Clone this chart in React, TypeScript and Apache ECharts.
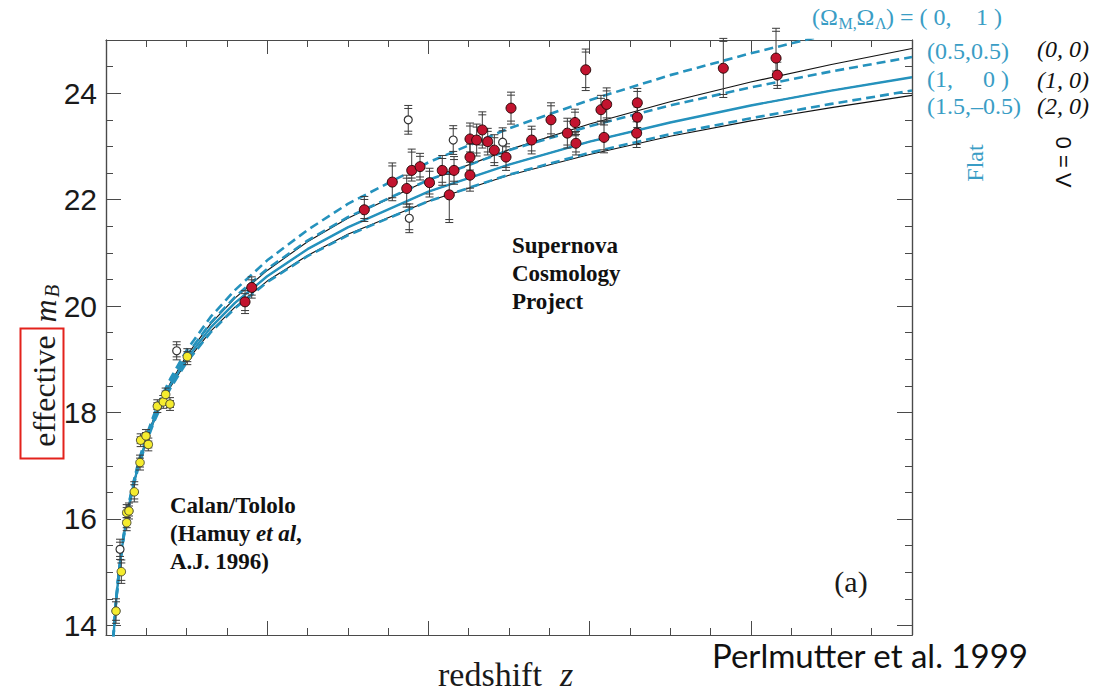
import React, { useEffect, useRef } from "react";
import * as echarts from "echarts";

// ---- model curves ----
const curveZ = [0.009, 0.012, 0.015, 0.02, 0.025, 0.03, 0.035, 0.04, 0.05, 0.06, 0.07, 0.08, 0.1, 0.13, 0.16, 0.2, 0.25, 0.3, 0.4, 0.5, 0.6, 0.7, 0.8, 0.9, 1.0];
const flat_0_1 = [13.75, 14.38, 14.87, 15.51, 16.0, 16.41, 16.75, 17.06, 17.56, 17.98, 18.33, 18.64, 19.17, 19.8, 20.3, 20.86, 21.43, 21.92, 22.7, 23.34, 23.87, 24.34, 24.75, 25.12, 25.47];
const flat_05_05 = [13.74, 14.37, 14.86, 15.49, 15.98, 16.39, 16.73, 17.02, 17.52, 17.93, 18.27, 18.58, 19.08, 19.69, 20.17, 20.7, 21.23, 21.67, 22.37, 22.93, 23.38, 23.77, 24.11, 24.41, 24.68];
const flat_1_0 = [13.74, 14.36, 14.85, 15.48, 15.96, 16.36, 16.7, 16.99, 17.48, 17.88, 18.22, 18.52, 19.01, 19.6, 20.06, 20.56, 21.07, 21.48, 22.15, 22.66, 23.09, 23.45, 23.77, 24.05, 24.3];
const flat_15_m05 = [13.73, 14.35, 14.84, 15.46, 15.94, 16.34, 16.67, 16.96, 17.44, 17.84, 18.17, 18.46, 18.94, 19.51, 19.96, 20.45, 20.94, 21.33, 21.97, 22.47, 22.88, 23.23, 23.53, 23.8, 24.05];
const lam0_0_0 = [13.74, 14.37, 14.86, 15.49, 15.98, 16.38, 16.72, 17.01, 17.51, 17.92, 18.26, 18.56, 19.07, 19.67, 20.15, 20.67, 21.21, 21.65, 22.37, 22.94, 23.42, 23.84, 24.21, 24.54, 24.84];
const lam0_2_0 = [13.73, 14.36, 14.84, 15.47, 15.95, 16.35, 16.68, 16.97, 17.46, 17.85, 18.19, 18.48, 18.96, 19.53, 19.98, 20.47, 20.95, 21.35, 21.97, 22.46, 22.85, 23.19, 23.48, 23.73, 23.96];

// ---- Calan/Tololo (yellow) ----
const yellowZ = [0.0124, 0.019, 0.0257, 0.0257, 0.0285, 0.0351, 0.0422, 0.043, 0.0496, 0.0525, 0.0637, 0.0711, 0.074, 0.0794, 0.1009];
const yellowM = [14.27, 15.01, 15.93, 16.12, 16.15, 16.51, 17.06, 17.48, 17.56, 17.4, 18.12, 18.2, 18.34, 18.16, 19.05];
const yellowErr = [0.23, 0.22, 0.15, 0.15, 0.15, 0.19, 0.14, 0.12, 0.12, 0.12, 0.12, 0.12, 0.12, 0.12, 0.15];

// ---- Supernova Cosmology Project (red) ----
const redZ = [0.1725, 0.1808, 0.3205, 0.3552, 0.3731, 0.3793, 0.3896, 0.4014, 0.4172, 0.4318, 0.4259, 0.4516, 0.4599, 0.4516, 0.4516, 0.4669, 0.4736, 0.4818, 0.4963, 0.5025, 0.5281, 0.5521, 0.5724, 0.5819, 0.5831, 0.5952, 0.6141, 0.6212, 0.6179, 0.6592, 0.6592, 0.6584, 0.7659, 0.8313, 0.8329];
const redM = [20.08, 20.35, 21.81, 22.33, 22.21, 22.55, 22.62, 22.32, 22.55, 22.55, 22.09, 23.14, 23.12, 22.8, 22.46, 23.31, 23.09, 22.93, 22.8, 23.72, 23.12, 23.5, 23.25, 23.45, 23.06, 24.44, 23.69, 23.79, 23.17, 23.82, 23.55, 23.25, 24.47, 24.66, 24.34];
const redErrUp = [0.21, 0.2, 0.25, 0.36, 0.25, 0.4, 0.25, 0.27, 0.28, 0.26, 0.44, 0.3, 0.3, 0.3, 0.3, 0.34, 0.25, 0.29, 0.25, 0.3, 0.26, 0.32, 0.28, 0.25, 0.22, 0.39, 0.27, 0.31, 0.29, 0.27, 0.25, 0.27, 0.56, 0.56, 0.3];
const redErrDown = [0.22, 0.2, 0.22, 0.35, 0.35, 0.2, 0.25, 0.27, 0.28, 0.26, 0.52, 0.3, 0.3, 0.3, 0.3, 0.34, 0.25, 0.29, 0.25, 0.3, 0.26, 0.32, 0.28, 0.25, 0.22, 0.39, 0.27, 0.31, 0.29, 0.27, 0.25, 0.27, 0.55, 0.3, 0.25];

// ---- excluded (open) ----
const openZ = [0.0174, 0.0877, 0.375, 0.3763, 0.4308, 0.4921];
const openM = [15.43, 19.16, 23.5, 21.65, 23.12, 23.08];
const openErr = [0.19, 0.17, 0.27, 0.27, 0.27, 0.27];

// ---- axis ticks ----
const yMajorTicks = [14, 16, 18, 20, 22, 24];
const yMinorTicks = [14.5, 15, 15.5, 16.5, 17, 17.5, 18.5, 19, 19.5, 20.5, 21, 21.5, 22.5, 23, 23.5, 24.5];

const BLUE = "#2592bd";
const BLUE_TEXT = "#3a9dc5";
const SERIF = '"Liberation Serif", "DejaVu Serif", serif';
const SANS = '"Liberation Sans", Arial, sans-serif';

function curve(ys: number[]) {
  return curveZ.map((z, i) => [z, ys[i]]);
}

function errorBarItem(params: any, api: any) {
  const x = api.value(0);
  const lo = api.value(1);
  const hi = api.value(2);
  const t = api.coord([x, hi]);
  const b = api.coord([x, lo]);
  const w = 4;
  const st = { stroke: "#3a3a3a", lineWidth: 1 };
  return {
    type: "group",
    children: [
      { type: "line", shape: { x1: t[0], y1: t[1], x2: b[0], y2: b[1] }, style: st },
      { type: "line", shape: { x1: t[0] - w, y1: t[1], x2: t[0] + w, y2: t[1] }, style: st },
      { type: "line", shape: { x1: t[0] - w, y1: t[1] + 3, x2: t[0] + w, y2: t[1] + 3 }, style: st },
      { type: "line", shape: { x1: b[0] - w, y1: b[1], x2: b[0] + w, y2: b[1] }, style: st },
      { type: "line", shape: { x1: b[0] - w, y1: b[1] - 3, x2: b[0] + w, y2: b[1] - 3 }, style: st },
    ],
  };
}

export default function App() {
  const ref = useRef<HTMLDivElement>(null);
  useEffect(() => {
    if (!ref.current) return;
    const chart = echarts.init(ref.current, undefined, { renderer: "svg" });

    const xBase = (pos: string) => ({
      type: "value",
      min: 0,
      max: 1,
      interval: 0.2,
      position: pos,
      axisLine: { show: true, onZero: false, lineStyle: { color: "#4a4a4a", width: 1.2 } },
      axisTick: { show: true, inside: true, length: 14, lineStyle: { color: "#4a4a4a", width: 1 } },
      minorTick: { show: true, splitNumber: 4, length: 7, lineStyle: { color: "#4a4a4a", width: 1 } },
      axisLabel: { show: false },
      splitLine: { show: false },
      minorSplitLine: { show: false },
    });
    const yBase = (pos: string, major: boolean, labels: boolean) => ({
      type: "value",
      min: 13.82,
      max: 25,
      position: pos,
      axisLine: { show: true, onZero: false, lineStyle: { color: "#4a4a4a", width: 1.2 } },
      axisTick: {
        show: true,
        inside: true,
        length: major ? 15 : 7,
        customValues: major ? yMajorTicks : yMinorTicks,
        lineStyle: { color: "#4a4a4a", width: 1 },
      },
      axisLabel: labels
        ? { show: true, customValues: yMajorTicks, fontSize: 30, fontFamily: SANS, color: "#1a1a1a", margin: 9 }
        : { show: false },
      splitLine: { show: false },
    });

    const lineSeries = (name: string, ys: number[], color: string, width: number, type: any, z: number) => ({
      name,
      type: "line",
      data: curve(ys),
      showSymbol: false,
      smooth: false,
      clip: true,
      z,
      lineStyle: { color, width, type },
      silent: true,
    });

    const option: any = {
      animation: false,
      grid: { left: 106, top: 40, width: 806, height: 595, containLabel: false },
      xAxis: [xBase("bottom"), xBase("top")],
      yAxis: [yBase("left", true, true), yBase("left", false, false), yBase("right", true, false), yBase("right", false, false)],
      series: [
        lineSeries("(0,0)", lam0_0_0, "#111", 1.1, "solid", 2),
        lineSeries("(2,0)", lam0_2_0, "#111", 1.1, "solid", 2),
        lineSeries("(1,0)", flat_1_0, "#111", 1.1, "solid", 2),
        lineSeries("(0,1)", flat_0_1, BLUE, 2.6, [9, 5], 3),
        lineSeries("(0.5,0.5)", flat_05_05, BLUE, 2.6, [9, 5], 3),
        lineSeries("(1,0) flat", flat_1_0, BLUE, 2.4, "solid", 3),
        lineSeries("(1.5,-0.5)", flat_15_m05, BLUE, 2.6, [9, 5], 3),
        {
          type: "custom",
          renderItem: errorBarItem,
          encode: { x: 0, y: [1, 2] },
          z: 4,
          silent: true,
          data: yellowZ.map((z, i) => [z, yellowM[i] - yellowErr[i], yellowM[i] + yellowErr[i]]),
        },
        {
          type: "custom",
          renderItem: errorBarItem,
          encode: { x: 0, y: [1, 2] },
          z: 4,
          silent: true,
          data: redZ.map((z, i) => [z, redM[i] - redErrDown[i], redM[i] + redErrUp[i]]),
        },
        {
          type: "custom",
          renderItem: errorBarItem,
          encode: { x: 0, y: [1, 2] },
          z: 4,
          silent: true,
          data: openZ.map((z, i) => [z, openM[i] - openErr[i], openM[i] + openErr[i]]),
        },
        {
          type: "scatter",
          data: yellowZ.map((z, i) => [z, yellowM[i]]),
          symbol: "circle",
          symbolSize: 8.5,
          z: 5,
          itemStyle: { color: "#f5ec2e", borderColor: "#4a4a30", borderWidth: 1, opacity: 1 },
        },
        {
          type: "scatter",
          data: redZ.map((z, i) => [z, redM[i]]),
          symbol: "circle",
          symbolSize: 10,
          z: 5,
          itemStyle: { color: "#c2142f", borderColor: "#2a0808", borderWidth: 1, opacity: 1 },
        },
        {
          type: "scatter",
          data: openZ.map((z, i) => [z, openM[i]]),
          symbol: "circle",
          symbolSize: 8,
          z: 5,
          itemStyle: { color: "#ffffff", borderColor: "#333", borderWidth: 1.2, opacity: 1 },
        },
      ],
      graphic: [
        // y-axis title
        { type: "rect", shape: { x: 20.5, y: 328.5, width: 43, height: 130 }, style: { fill: "none", stroke: "#e3221c", lineWidth: 2 } },
        { type: "text", x: 44, y: 391, rotation: Math.PI / 2, style: { text: "effective", font: `32px ${SERIF}`, fill: "#1a1a1a", align: "center", verticalAlign: "middle" } },
        { type: "text", x: 45, y: 311, rotation: Math.PI / 2, style: { text: "m", font: `italic 32px ${SERIF}`, fill: "#1a1a1a", align: "center", verticalAlign: "middle" } },
        { type: "text", x: 52, y: 291, rotation: Math.PI / 2, style: { text: "B", font: `italic 21px ${SERIF}`, fill: "#1a1a1a", align: "center", verticalAlign: "middle" } },
        // x-axis title
        { type: "text", x: 438, y: 674, style: { text: "redshift", font: `34px ${SERIF}`, fill: "#1a1a1a", align: "left", verticalAlign: "middle" } },
        { type: "text", x: 560, y: 674, style: { text: "z", font: `italic 34px ${SERIF}`, fill: "#1a1a1a", align: "left", verticalAlign: "middle" } },
        { type: "text", x: 712, y: 655, style: { text: "Perlmutter et al. 1999", font: `33px Lato, "Open Sans", sans-serif`, fill: "#111", align: "left", verticalAlign: "middle" } },
        // in-plot annotations
        { type: "text", x: 512, y: 245, style: { text: "Supernova", font: `bold 23px ${SERIF}`, fill: "#111", align: "left", verticalAlign: "middle" } },
        { type: "text", x: 512, y: 273, style: { text: "Cosmology", font: `bold 23px ${SERIF}`, fill: "#111", align: "left", verticalAlign: "middle" } },
        { type: "text", x: 512, y: 301, style: { text: "Project", font: `bold 23px ${SERIF}`, fill: "#111", align: "left", verticalAlign: "middle" } },
        { type: "text", x: 170, y: 505, style: { text: "Calan/Tololo", font: `bold 23px ${SERIF}`, fill: "#111", align: "left", verticalAlign: "middle" } },
        { type: "text", x: 170, y: 533, style: { text: "(Hamuy", font: `bold 23px ${SERIF}`, fill: "#111", align: "left", verticalAlign: "middle" } },
        { type: "text", x: 256, y: 533, style: { text: "et al", font: `italic bold 23px ${SERIF}`, fill: "#111", align: "left", verticalAlign: "middle" } },
        { type: "text", x: 296, y: 533, style: { text: ",", font: `bold 23px ${SERIF}`, fill: "#111", align: "left", verticalAlign: "middle" } },
        { type: "text", x: 170, y: 561, style: { text: "A.J. 1996)", font: `bold 23px ${SERIF}`, fill: "#111", align: "left", verticalAlign: "middle" } },
        { type: "text", x: 851, y: 581, style: { text: "(a)", font: `30px ${SERIF}`, fill: "#1a1a1a", align: "center", verticalAlign: "middle" } },
        // right-hand legend (flat, blue)
        { type: "text", x: 812, y: 17, style: { text: "(Ω", font: `24px ${SERIF}`, fill: BLUE_TEXT, align: "left", verticalAlign: "middle" } },
        { type: "text", x: 838.5, y: 23, style: { text: "M,", font: `16px ${SERIF}`, fill: BLUE_TEXT, align: "left", verticalAlign: "middle" } },
        { type: "text", x: 856.5, y: 17, style: { text: "Ω", font: `24px ${SERIF}`, fill: BLUE_TEXT, align: "left", verticalAlign: "middle" } },
        { type: "text", x: 875, y: 23, style: { text: "Λ", font: `16px ${SERIF}`, fill: BLUE_TEXT, align: "left", verticalAlign: "middle" } },
        { type: "text", x: 886, y: 17, style: { text: ") = ( 0,", font: `24px ${SERIF}`, fill: BLUE_TEXT, align: "left", verticalAlign: "middle" } },
        { type: "text", x: 976, y: 17, style: { text: "1 )", font: `24px ${SERIF}`, fill: BLUE_TEXT, align: "left", verticalAlign: "middle" } },
        { type: "text", x: 927, y: 51, style: { text: "(0.5,0.5)", font: `24px ${SERIF}`, fill: BLUE_TEXT, align: "left", verticalAlign: "middle" } },
        { type: "text", x: 927, y: 79, style: { text: "(1,", font: `24px ${SERIF}`, fill: BLUE_TEXT, align: "left", verticalAlign: "middle" } },
        { type: "text", x: 983, y: 79, style: { text: "0 )", font: `24px ${SERIF}`, fill: BLUE_TEXT, align: "left", verticalAlign: "middle" } },
        { type: "text", x: 927, y: 106, style: { text: "(1.5,–0.5)", font: `24px ${SERIF}`, fill: BLUE_TEXT, align: "left", verticalAlign: "middle" } },
        // right-hand legend (Lambda = 0, black italic)
        { type: "text", x: 1037, y: 49, style: { text: "(0, 0)", font: `italic 24px ${SERIF}`, fill: "#111", align: "left", verticalAlign: "middle" } },
        { type: "text", x: 1037, y: 80, style: { text: "(1, 0)", font: `italic 24px ${SERIF}`, fill: "#111", align: "left", verticalAlign: "middle" } },
        { type: "text", x: 1037, y: 106, style: { text: "(2, 0)", font: `italic 24px ${SERIF}`, fill: "#111", align: "left", verticalAlign: "middle" } },
        { type: "text", x: 975, y: 163, rotation: Math.PI / 2, style: { text: "Flat", font: `24px ${SERIF}`, fill: BLUE_TEXT, align: "center", verticalAlign: "middle" } },
        { type: "text", x: 1063, y: 162, rotation: Math.PI / 2, style: { text: "Λ = 0", font: `22px ${SANS}`, fill: "#111", align: "center", verticalAlign: "middle" } },
      ],
    };
    chart.setOption(option);
    return () => chart.dispose();
  }, []);
  return <div ref={ref} style={{ position: "absolute", left: 0, top: 0, width: 1120, height: 696, background: "#fff" }} />;
}
